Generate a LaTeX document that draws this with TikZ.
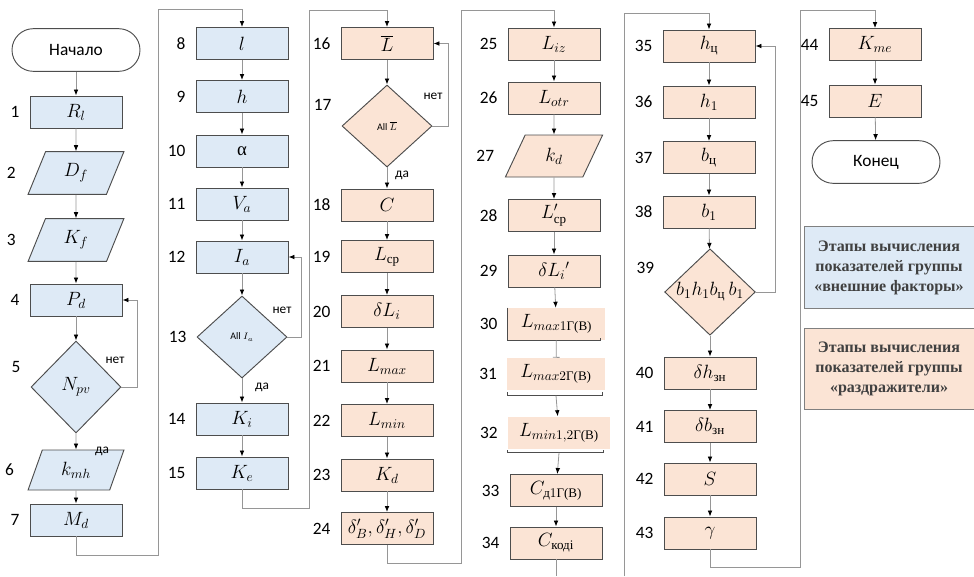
\documentclass[tikz,border=0pt]{standalone}
\usepackage{amsmath}
\usepackage{fontspec}
\setmainfont{Liberation Serif}
\setsansfont{Carlito}
\usetikzlibrary{shapes.geometric,arrows.meta}
\definecolor{bluef}{RGB}{222,234,246}
\definecolor{peachf}{RGB}{251,228,213}
\definecolor{bordc}{RGB}{77,77,77}
\definecolor{linec}{RGB}{150,150,150}
\definecolor{legtxt}{RGB}{64,64,64}
\newcommand{\cy}[1]{\text{#1}}

\begin{document}
\begin{tikzpicture}[x=0.75pt,y=-0.75pt,
    every node/.style={font=\fontsize{14}{16}\selectfont},
    proc/.style={draw=bordc, line width=0.7pt, minimum width=69pt, minimum height=24pt, inner sep=1pt},
    io/.style={proc, trapezium, trapezium left angle=70, trapezium right angle=110,
        trapezium stretches=true, minimum width=72pt, minimum height=32pt},
    dec/.style={proc, diamond, minimum width=67.5pt, minimum height=61.5pt, inner sep=0pt},
    term/.style={draw=bordc, line width=0.7pt, rounded corners=16pt, minimum width=96pt,
        minimum height=32pt, font=\sffamily\fontsize{13}{15}\selectfont},
    brk/.style={fill=peachf, minimum width=73pt, minimum height=24pt, inner sep=1pt},
    bl/.style={fill=bluef}, pc/.style={fill=peachf},
    num/.style={font=\sffamily\fontsize{13}{15}\selectfont, label distance=4pt},
    numio/.style={num, xshift=-8pt},
    yn/.style={font=\sffamily\fontsize{10}{12}\selectfont},
    conn/.style={draw=linec, line width=0.6pt, -{Latex[length=4.5pt,width=3.5pt,color=black]}},
    line/.style={draw=linec, line width=0.6pt},
    edge/.style={draw=bordc, line width=0.7pt},
    lgd/.style={draw=gray, line width=0.6pt, minimum width=127.5pt, minimum height=61pt,
        align=center, text=legtxt, font=\bfseries\fontsize{12}{15}\selectfont}
]
\useasboundingbox (0,0) rectangle (974,576);

% column 1
\node[term] (start) at (76,50) {Начало};
\node[proc,bl,label={[num]left:1}] (n1) at (76,112) {$R_l$};
\node[io,bl,label={[numio]left:2}] (n2) at (76,173) {$D_f$};
\node[io,bl,label={[numio]left:3}] (n3) at (76,240) {$K_f$};
\node[proc,bl,label={[num]left:4}] (n4) at (76,300) {$P_d$};
\node[dec,bl,minimum height=69pt,label={[num,yshift=15pt]left:5}] (n5) at (76,387) {$N_{pv}$};
\node[io,bl,minimum height=30pt,label={[numio]left:6}] (n6) at (76,470) {$k_{mh}$};
\node[proc,bl,label={[num]left:7}] (n7) at (76,520) {$M_d$};

% column 2
\node[proc,bl,label={[num]left:8}] (n8) at (242,43.5) {$l$};
\node[proc,bl,label={[num]left:9}] (n9) at (242,96.5) {$h$};
\node[proc,bl,label={[num]left:10}] (n10) at (242,151) {α};
\node[proc,bl,label={[num]left:11}] (n11) at (242,204) {$V_a$};
\node[proc,bl,label={[num]left:12}] (n12) at (242,257) {$I_a$};
\node[dec,bl,label={[num]left:13}] (n13) at (242,337) {\sffamily\fontsize{7.5}{8}\selectfont All $I_a$};
\node[proc,bl,label={[num]left:14}] (n14) at (242,419) {$K_i$};
\node[proc,bl,label={[num]left:15}] (n15) at (242,473) {$K_e$};

% column 3
\node[proc,pc,label={[num]left:16}] (n16) at (387,43.5) {$\overline{L}$};
\node[dec,pc,label={[num,yshift=16pt]left:17}] (n17) at (387,126) {\sffamily\fontsize{7.5}{8}\selectfont All $\overline{L}$};
\node[proc,pc,label={[num]left:18}] (n18) at (387,205) {$C$};
\node[proc,pc,label={[num]left:19}] (n19) at (387,256.5) {$L_{\cy{ср}}$};
\node[proc,pc,label={[num]left:20}] (n20) at (387,311.5) {$\delta L_i$};
\node[proc,pc,label={[num]left:21}] (n21) at (387,366) {$L_{max}$};
\node[proc,pc,label={[num]left:22}] (n22) at (387,420.5) {$L_{min}$};
\node[proc,pc,label={[num]left:23}] (n23) at (387,475) {$K_d$};
\node[proc,pc,label={[num]left:24}] (n24) at (387,528.5) {$\delta'_B,\delta'_H,\delta'_D$};

% column 4
\node[proc,pc,label={[num]left:25}] (n25) at (554,44) {$L_{iz}$};
\node[proc,pc,label={[num]left:26}] (n26) at (554,98) {$L_{otr}$};
\node[io,pc,minimum width=73pt,minimum height=31.5pt,label={[numio]left:27}] (n27) at (554,156) {$k_d$};
\node[proc,pc,label={[num]left:28}] (n28) at (554,215.5) {$L'_{\cy{ср}}$};
\node[proc,pc,label={[num]left:29}] (n29) at (554,271) {$\delta L_i{}'$};
\node[brk,label={[num]left:30}] (n30) at (556.5,324) {$L_{max1\cy{Г(В)}}$};
\node[brk,label={[num]left:31}] (n31) at (556,374) {$L_{max2\cy{Г(В)}}$};
\node[brk,minimum width=76.5pt,label={[num]left:32}] (n32) at (559,432.5) {$L_{min1,2\cy{Г(В)}}$};
\node[proc,pc,label={[num]left:33}] (n33) at (556,490.5) {$C_{\cy{д}1\cy{Г(В)}}$};
\node[proc,pc,label={[num]left:34}] (n34) at (556,543) {$C_{\cy{коді}}$};
\coordinate (cut4) at (556,576);

% column 5
\coordinate (cut5) at (624,576);
\node[proc,pc,label={[num]left:35}] (n35) at (709,46) {$h_{\cy{ц}}$};
\node[proc,pc,label={[num]left:36}] (n36) at (709,102) {$h_1$};
\node[proc,pc,label={[num]left:37}] (n37) at (709,157.5) {$b_{\cy{ц}}$};
\node[proc,pc,label={[num]left:38}] (n38) at (709,212) {$b_1$};
\node[dec,pc,minimum width=68pt,minimum height=62pt,label={[num,yshift=18pt]left:39}] (n39) at (710,292) {$b_1h_1b_{\cy{ц}}\,b_1$};
\node[proc,pc,label={[num]left:40}] (n40) at (710,373) {$\delta h_{\cy{зн}}$};
\node[proc,pc,label={[num]left:41}] (n41) at (710,426.5) {$\delta b_{\cy{зн}}$};
\node[proc,pc,label={[num]left:42}] (n42) at (710,479) {$S$};
\node[proc,pc,label={[num]left:43}] (n43) at (710,533) {$\gamma$};

% column 6
\node[proc,pc,label={[num]left:44}] (n44) at (875,44.5) {$K_{me}$};
\node[proc,pc,label={[num]left:45}] (n45) at (875,101) {$E$};
\node[term] (end) at (876,162) {Конец};
\node[lgd,bl] (lg1) at (889,267.5) {Этапы вычисления\\показателей группы\\«внешние факторы»};
\node[lgd,pc] (lg2) at (889,369) {Этапы вычисления\\показателей группы\\«раздражители»};

% yes / no
\node[yn] (no5) at (115,360) {нет};
\node[yn] (yes5) at (102,451) {да};
\node[yn] (no13) at (282,310) {нет};
\node[yn] (yes13) at (262,387) {да};
\node[yn] (no17) at (433,96) {нет};
\node[yn] (yes17) at (402,175) {да};

% broken borders of 30-32
\draw[edge] (n30.north west) -- (n30.south west) -- ([xshift=-4pt]n30.south east) -- ++(0,2pt);
\draw[edge] ([yshift=-1.5pt]n31.south west) -- ([yshift=-4pt]n31.south west)
    -- ([xshift=-2pt,yshift=-4pt]n31.south east) -- ([xshift=-2pt,yshift=-1.5pt]n31.south east);
\draw[edge] ([yshift=-1pt]n32.south west) -- ([yshift=-3pt]n32.south west)
    -- ([xshift=-5pt,yshift=-3pt]n32.south east) -- ([xshift=-5pt,yshift=-1pt]n32.south east);

% connectors
\foreach \a/\b in {start/n1,n1/n2,n2/n3,n3/n4,n4/n5,n5/n6,n6/n7,
    n8/n9,n9/n10,n10/n11,n11/n12,n12/n13,n13/n14,n14/n15,
    n16/n17,n17/n18,n18/n19,n19/n20,n20/n21,n21/n22,n22/n23,n23/n24,
    n25/n26,n26/n27,n27/n28,n28/n29,n29/n30,n33/n34,
    n35/n36,n36/n37,n37/n38,n38/n39,n39/n40,n40/n41,n41/n42,n42/n43,
    n44/n45,n45/end}
    \draw[conn] (\a) -- (\b);
\draw[line,-{Bar[width=5pt]}] (n30) -- (n31);
\draw[conn] ([yshift=-4pt]n31.south) -- (n32);
\draw[conn] ([yshift=-3pt]n32.south) -- (n33);

\draw[conn] (n5.east) -| (137,300) -- (n4.east);
\draw[conn] (n13.east) -| (301,257) -- (n12.east);
\draw[conn] (n17.east) -| (448,43.5) -- (n16.east);
\draw[conn] (n39.east) -| (775,46) -- (n35.east);

\draw[conn] (n7) |- (158,555) |- (242,9) -- (n8);
\draw[conn] (n15) |- (309,508) |- (387,10) -- (n16);
\draw[conn] (n24) |- (461,563) |- (554,10) -- (n25);
\draw[line] (n34) -- (cut4);
\draw[conn] (cut5) |- (709,13) -- (n35);
\draw[conn] (n43) |- (800,567) |- (875,10) -- (n44);
\end{tikzpicture}
\end{document}
